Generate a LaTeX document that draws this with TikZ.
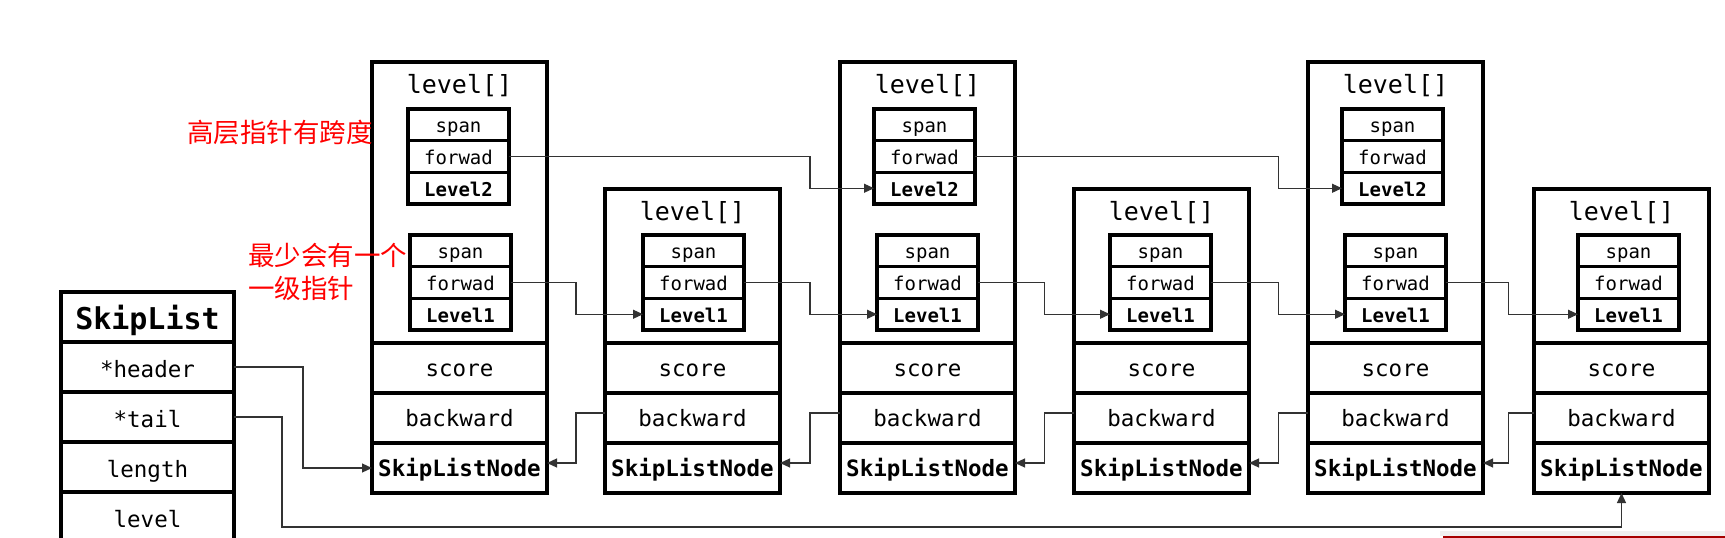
\documentclass[tikz,border=0pt]{standalone}
\usepackage{fontspec}
\setmonofont{DejaVu Sans Mono}
\newfontfamily\cjk{Noto Sans CJK SC}
\usetikzlibrary{calc,arrows.meta}
\tikzset{
  box/.style={draw, line width=3.4pt, inner sep=0pt, outer sep=0pt},
  cell/.style={box, minimum width=175pt, minimum height=50pt,
    text height=23pt, text depth=5.4pt,
    font=\ttfamily\fontsize{22.5pt}{22.5pt}\selectfont},
  cellb/.style={cell, font=\ttfamily\bfseries\fontsize{22.5pt}{22.5pt}\selectfont},
  lvarea/.style={draw, line width=3.4pt, inner sep=0pt, outer sep=0pt, minimum width=175pt},
  lvtxt/.style={inner sep=0pt, text height=21pt, text depth=6pt,
    font=\ttfamily\fontsize{25pt}{25pt}\selectfont},
  sub/.style={box, minimum width=101pt, minimum height=31.7pt,
    text height=20.4pt, text depth=4.6pt,
    font=\ttfamily\fontsize{19pt}{19pt}\selectfont},
  subb/.style={sub, font=\ttfamily\bfseries\fontsize{19pt}{19pt}\selectfont},
  note/.style={inner sep=0pt, text=red, font=\cjk\fontsize{26.5pt}{26.5pt}\selectfont},
  conn/.style={draw=black!80, line width=1.2pt, -{Triangle[length=10pt,width=9pt]}}
}
\newcommand\slbase[4]{%
  \node[lvarea, anchor=north west, minimum height={(343-#3)*1pt}] (#1lv) at (#2,#3) {};
  \node[lvtxt] (#1lt) at (#2+87.5,#3+24) {level[]};
  \node[sub, anchor=north west] (#1s1) at (#2+#4,235) {span};
  \node[sub, anchor=north] (#1f1) at (#1s1.south) {forwad};
  \node[subb, anchor=north] (#1v1) at (#1f1.south) {Level1};
  \node[cell, anchor=north west] (#1sc) at (#2,343) {score};
  \node[cell, anchor=north] (#1bk) at (#1sc.south) {backward};
  \node[cellb, anchor=north] (#1sn) at (#1bk.south) {SkipListNode};
}
\newcommand\sltop[3]{%
  \node[sub, anchor=north west] (#1s2) at (#2+#3,109) {span};
  \node[sub, anchor=north] (#1f2) at (#1s2.south) {forwad};
  \node[subb, anchor=north] (#1v2) at (#1f2.south) {Level2};
}
\begin{document}
\begin{tikzpicture}[x=1pt,y=-1pt]
\clip (0,0) rectangle (1725,538);
\fill[white] (0,0) rectangle (1725,538);

% SkipList structure
\node[cellb, anchor=north west, minimum width=173pt, text height=32pt, text depth=7.2pt,
  font=\ttfamily\bfseries\fontsize{30pt}{30pt}\selectfont] (sl) at (61,292) {SkipList};
\node[cell, anchor=north, minimum width=173pt, text height=26pt] (hd) at (sl.south) {*header};
\node[cell, anchor=north, minimum width=173pt, text height=26pt] (tl) at (hd.south) {*tail};
\node[cell, anchor=north, minimum width=173pt, text height=26pt] (ln) at (tl.south) {length};
\node[cell, anchor=north, minimum width=173pt, text height=26pt] (lv) at (ln.south) {level};

% skip list nodes
\slbase{n1}{372}{62}{38}
\sltop{n1}{372}{36}
\slbase{n2}{605}{189}{38}
\slbase{n3}{840}{62}{37}
\sltop{n3}{840}{34}
\slbase{n4}{1074}{189}{36}
\slbase{n5}{1308}{62}{37}
\sltop{n5}{1308}{34}
\slbase{n6}{1534}{189}{44}

% notes
\node[note, anchor=base east] (t1) at (373,142) {高层指针有跨度};
\node[note, anchor=base west] (t2) at (248,265) {最少会有一个};
\node[note, anchor=base west] (t3) at (248,298) {一级指针};

% gap coordinates
\coordinate (g1) at ($(n1sc.east)!0.5!(n2sc.west)$);
\coordinate (g2) at ($(n2sc.east)!0.5!(n3sc.west)$);
\coordinate (g3) at ($(n3sc.east)!0.5!(n4sc.west)$);
\coordinate (g4) at ($(n4sc.east)!0.5!(n5sc.west)$);
\coordinate (g5) at ($(n5sc.east)!0.5!(n6sc.west)$);
\coordinate (hx) at ($(hd.east)!0.5!(n1sc.west)$);

% forward level 1
\draw[conn] (n1f1.east) -- (n1f1.east -| g1) |- (n2v1.west);
\draw[conn] (n2f1.east) -- (n2f1.east -| g2) |- (n3v1.west);
\draw[conn] (n3f1.east) -- (n3f1.east -| g3) |- (n4v1.west);
\draw[conn] (n4f1.east) -- (n4f1.east -| g4) |- (n5v1.west);
\draw[conn] (n5f1.east) -- (n5f1.east -| g5) |- (n6v1.west);
% forward level 2
\draw[conn] (n1f2.east) -- (n1f2.east -| g2) |- (n3v2.west);
\draw[conn] (n3f2.east) -- (n3f2.east -| g4) |- (n5v2.west);

% backward
\coordinate (b2) at ([yshift=5pt]n2bk.west);
\coordinate (b3) at ([yshift=5pt]n3bk.west);
\coordinate (b4) at ([yshift=5pt]n4bk.west);
\coordinate (b5) at ([yshift=5pt]n5bk.west);
\coordinate (b6) at ([yshift=5pt]n6bk.west);
\coordinate (e1) at ([yshift=5pt]n1sn.east);
\coordinate (e2) at ([yshift=5pt]n2sn.east);
\coordinate (e3) at ([yshift=5pt]n3sn.east);
\coordinate (e4) at ([yshift=5pt]n4sn.east);
\coordinate (e5) at ([yshift=5pt]n5sn.east);
\draw[conn] (b2) -- (b2 -| g1) |- (e1);
\draw[conn] (b3) -- (b3 -| g2) |- (e2);
\draw[conn] (b4) -- (b4 -| g3) |- (e3);
\draw[conn] (b5) -- (b5 -| g4) |- (e4);
\draw[conn] (b6) -- (b6 -| g5) |- (e5);

% header and tail
\draw[conn] (hd.east) -- (hd.east -| hx) |- (n1sn.west);
\coordinate (tx) at ([xshift=48pt]tl.east);
\coordinate (tb) at ([yshift=-34pt]n6sn.south);
\draw[conn] (tl.east) -| (tx |- tb) -| (n6sn.south);

% bottom edge artefact
\fill[black!6] (1440,531) rectangle (1725,536);
\fill[red!65!black] (1443,536) rectangle (1725,538);
\end{tikzpicture}
\end{document}
